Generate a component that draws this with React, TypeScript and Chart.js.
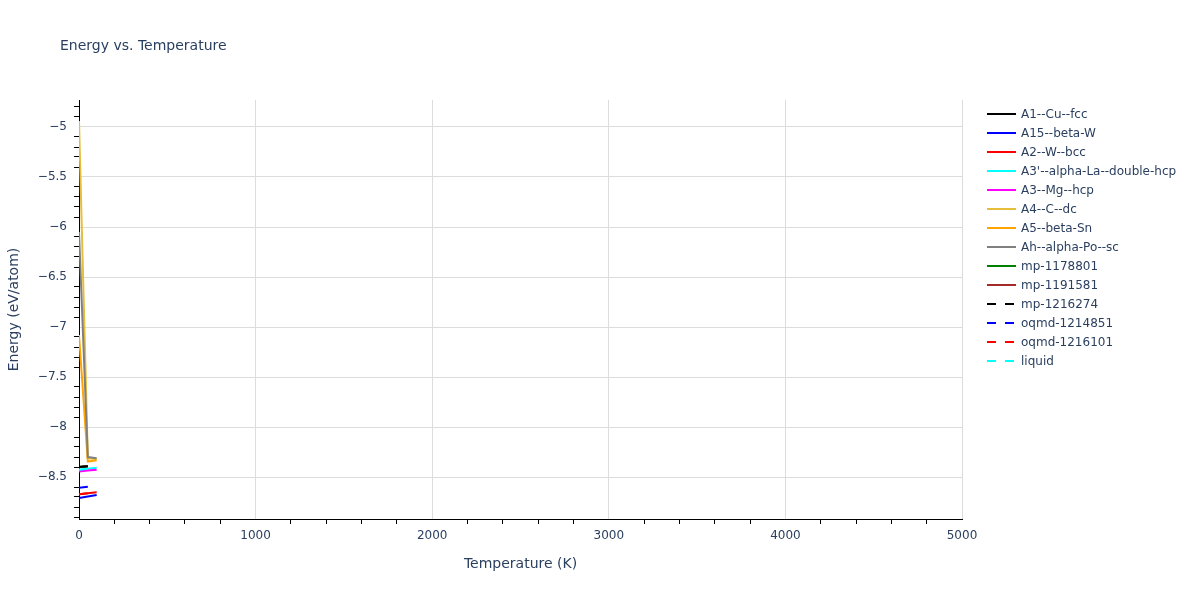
import { useEffect, useRef } from "react";
import { Chart, registerables, type Plugin } from "chart.js";

Chart.register(...registerables);

// temperatures (K) sampled by each series
const T_LONG = [0, 50, 100];
const T_SHORT = [0, 50];

// energies (eV/atom)
const A1_CU_FCC = [-8.4, -8.392];
const A15_BETA_W = [-8.71, -8.695, -8.68];
const A2_W_BCC = [-8.672, -8.662, -8.652];
const A3P_ALPHA_LA = [-8.428, -8.418, -8.408];
const A3_MG_HCP = [-8.445, -8.436, -8.427];
const A4_C_DC = [-4.94, -8.31, -8.322];
const A5_BETA_SN = [-7.08, -8.345, -8.332];
const AH_ALPHA_PO = [-6.05, -8.3, -8.312];
const MP_1178801 = [-8.4, -8.392];
const MP_1191581 = [-8.4, -8.392];
const MP_1216274 = [-8.4, -8.392];
const OQMD_1214851 = [-8.607, -8.597];
const OQMD_1216101 = [-8.672, -8.662];
const LIQUID = [-8.428, -8.418];

const X_MAJOR_TICKS = [0, 1000, 2000, 3000, 4000, 5000];
const Y_MAJOR_TICKS = [-8.5, -8, -7.5, -7, -6.5, -6, -5.5, -5];

const TEXT = "#2a3f5f";
const GRID = "#dcdcdc";
const FONT = '"DejaVu Sans", Verdana, sans-serif';

const SERIES: { label: string; t: number[]; e: number[]; color: string; dash?: number[] }[] = [
  { label: "A1--Cu--fcc", t: T_SHORT, e: A1_CU_FCC, color: "#000000" },
  { label: "A15--beta-W", t: T_LONG, e: A15_BETA_W, color: "#0000ff" },
  { label: "A2--W--bcc", t: T_LONG, e: A2_W_BCC, color: "#ff0000" },
  { label: "A3'--alpha-La--double-hcp", t: T_LONG, e: A3P_ALPHA_LA, color: "#00ffff" },
  { label: "A3--Mg--hcp", t: T_LONG, e: A3_MG_HCP, color: "#ff00ff" },
  { label: "A4--C--dc", t: T_LONG, e: A4_C_DC, color: "#e6be3a" },
  { label: "A5--beta-Sn", t: T_LONG, e: A5_BETA_SN, color: "#ffa500" },
  { label: "Ah--alpha-Po--sc", t: T_LONG, e: AH_ALPHA_PO, color: "#808080" },
  { label: "mp-1178801", t: T_SHORT, e: MP_1178801, color: "#008000" },
  { label: "mp-1191581", t: T_SHORT, e: MP_1191581, color: "#a52a2a" },
  { label: "mp-1216274", t: T_SHORT, e: MP_1216274, color: "#000000", dash: [9, 9] },
  { label: "oqmd-1214851", t: T_SHORT, e: OQMD_1214851, color: "#0000ff", dash: [9, 9] },
  { label: "oqmd-1216101", t: T_SHORT, e: OQMD_1216101, color: "#ff0000", dash: [9, 9] },
  { label: "liquid", t: T_SHORT, e: LIQUID, color: "#00ffff", dash: [9, 9] },
];

const isMajorX = (v: number) => X_MAJOR_TICKS.some((m) => Math.abs(m - v) < 1e-6);
const isMajorY = (v: number) => Y_MAJOR_TICKS.some((m) => Math.abs(m - v) < 1e-6);
const fmt = (v: number) => String(v).replace("-", "\u2212");

// title + plotly-like legend drawn on the canvas
const decorations: Plugin<"line"> = {
  id: "decorations",
  afterDraw(chart) {
    const ctx = chart.ctx;
    ctx.save();
    ctx.fillStyle = TEXT;
    ctx.textBaseline = "middle";
    ctx.textAlign = "left";
    ctx.font = `14px ${FONT}`;
    ctx.fillText("Energy vs. Temperature", 60, 46);

    ctx.font = `12px ${FONT}`;
    SERIES.forEach((s, i) => {
      const y = 114 + i * 19;
      ctx.strokeStyle = s.color;
      ctx.lineWidth = 2;
      ctx.setLineDash(s.dash ?? []);
      ctx.beginPath();
      ctx.moveTo(987, y);
      ctx.lineTo(1016, y);
      ctx.stroke();
      ctx.setLineDash([]);
      ctx.fillStyle = TEXT;
      ctx.fillText(s.label, 1021, y + 1);
    });
    ctx.restore();
  },
};

export default function App() {
  const canvasRef = useRef<HTMLCanvasElement>(null);

  useEffect(() => {
    if (!canvasRef.current) return;

    const chart = new Chart(canvasRef.current, {
      type: "line",
      data: {
        datasets: SERIES.map((s, i) => ({
          label: s.label,
          data: s.t.map((t, k) => ({ x: t, y: s.e[k] })),
          borderColor: s.color,
          backgroundColor: s.color,
          borderWidth: 2,
          borderDash: s.dash ?? [],
          pointRadius: 0,
          tension: 0,
          order: SERIES.length - i, // later traces on top
        })),
      },
      options: {
        animation: false,
        responsive: false,
        layout: { padding: { left: 0, top: 100, right: 238, bottom: 0 } },
        plugins: {
          legend: { display: false },
          tooltip: { enabled: false },
          title: { display: false },
        },
        scales: {
          x: {
            type: "linear",
            min: 0,
            max: 5000,
            afterBuildTicks(axis) {
              const ticks = [];
              for (let k = 0; k <= 25; k++) ticks.push({ value: k * 200 });
              axis.ticks = ticks;
            },
            afterFit(scale) {
              scale.height = 81;
            },
            ticks: {
              autoSkip: false,
              maxRotation: 0,
              padding: 5,
              color: TEXT,
              font: { size: 12, family: FONT },
              callback: (v) => (isMajorX(Number(v)) ? fmt(Number(v)) : ""),
            },
            grid: {
              color: (c) => (isMajorX(c.tick.value) && c.tick.value !== 0 ? GRID : "rgba(0,0,0,0)"),
              tickColor: (c) => (isMajorX(c.tick.value) ? "rgba(0,0,0,0)" : "#000"),
              tickLength: 5,
              lineWidth: 1,
            },
            border: { display: true, color: "#000", width: 1 },
            title: {
              display: true,
              text: "Temperature (K)",
              color: TEXT,
              font: { size: 14, family: FONT },
              padding: { top: 0, bottom: 27 },
            },
          },
          y: {
            type: "linear",
            min: -8.92,
            max: -4.73,
            afterBuildTicks(axis) {
              const ticks = [];
              for (let k = -89; k <= -48; k++) ticks.push({ value: k / 10 });
              axis.ticks = ticks;
            },
            afterFit(scale) {
              scale.width = 79;
            },
            ticks: {
              autoSkip: false,
              padding: 7,
              color: TEXT,
              font: { size: 12, family: FONT },
              callback: (v) => (isMajorY(Number(v)) ? fmt(Number(v)) : ""),
            },
            grid: {
              color: (c) => (isMajorY(c.tick.value) ? GRID : "rgba(0,0,0,0)"),
              tickColor: (c) => (isMajorY(c.tick.value) ? "rgba(0,0,0,0)" : "#000"),
              tickLength: 5,
              lineWidth: 1,
            },
            border: { display: true, color: "#000", width: 1 },
            title: {
              display: true,
              text: "Energy (eV/atom)",
              color: TEXT,
              font: { size: 14, family: FONT },
              padding: { top: 6, bottom: 0 },
            },
          },
        },
      },
      plugins: [decorations],
    });

    return () => chart.destroy();
  }, []);

  return (
    <div style={{ position: "absolute", left: 0, top: 0, width: 1200, height: 600, background: "#fff" }}>
      <canvas ref={canvasRef} width={1200} height={600} />
    </div>
  );
}
